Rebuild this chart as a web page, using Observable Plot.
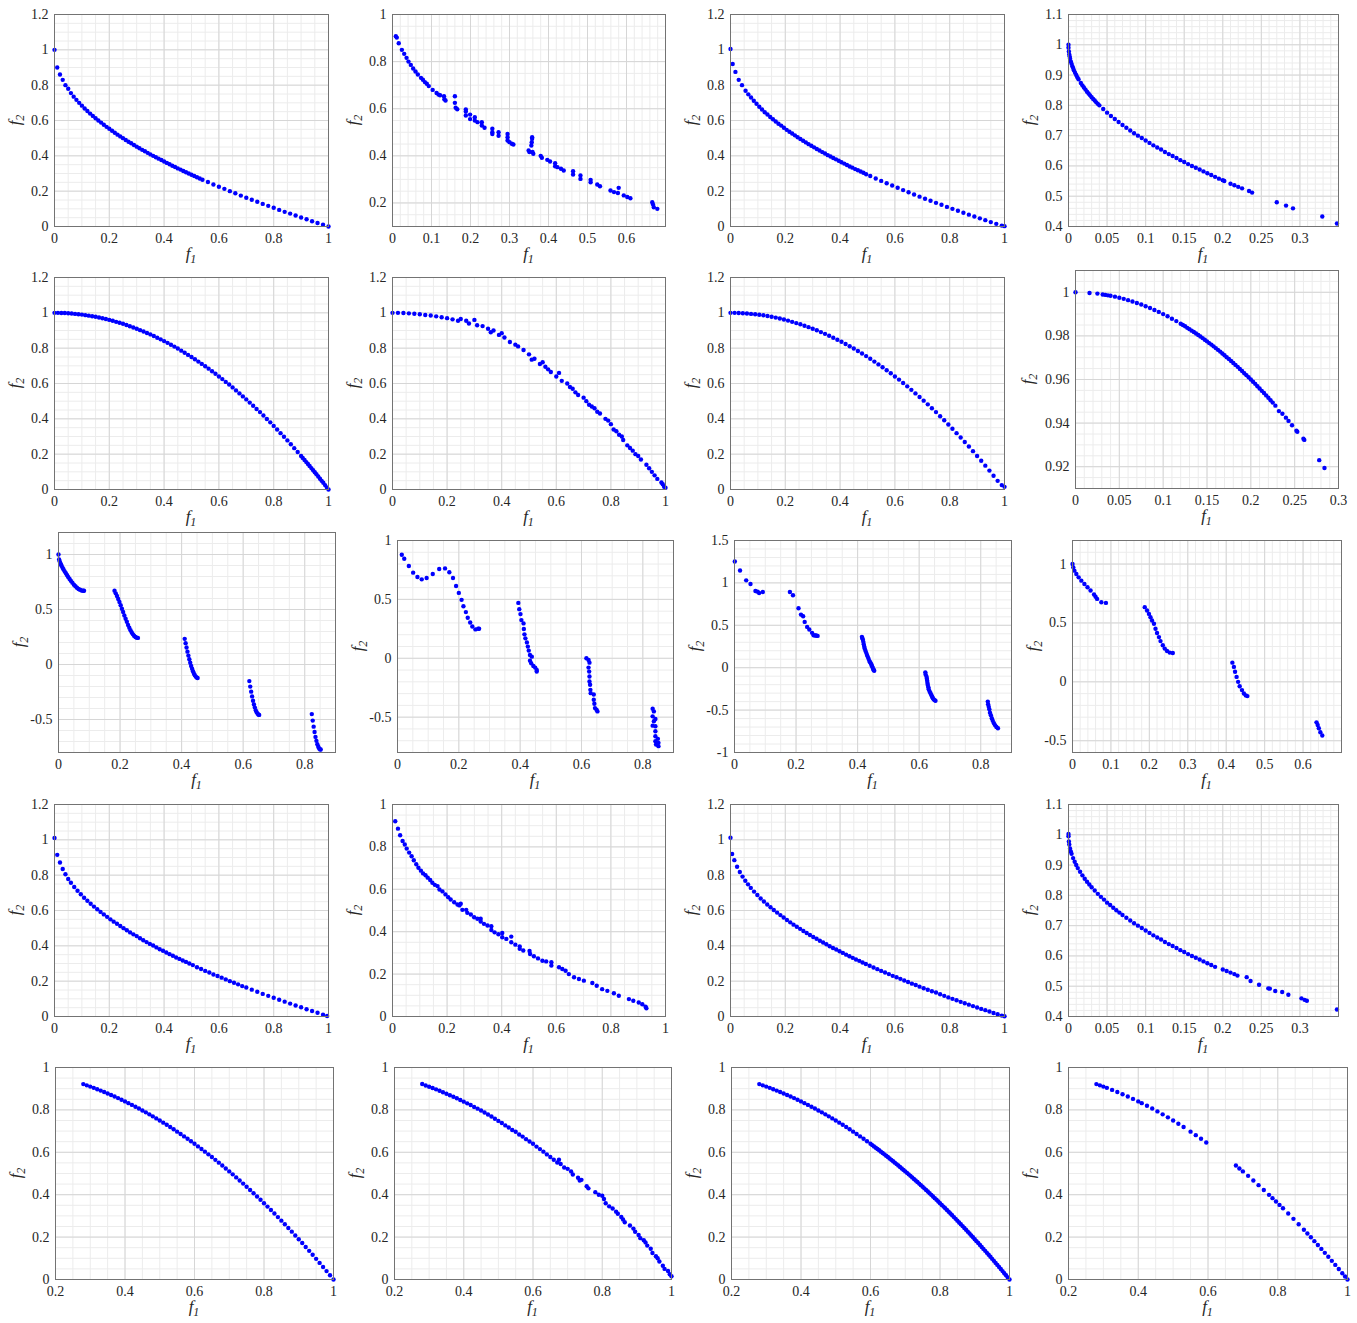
<!DOCTYPE html>
<html><head><meta charset="utf-8">
<script src="https://cdn.jsdelivr.net/npm/d3@7"></script>
<script src="https://cdn.jsdelivr.net/npm/@observablehq/plot@0.6"></script>
<style>
body{margin:0;background:#fff;}
#wrap{position:relative;width:1357px;height:1323px;overflow:hidden;background:#fff;}
#wrap svg{position:absolute;font-family:'Liberation Serif','Times New Roman',serif;}
</style></head><body><div id="wrap"></div>
<script>
// ---------- tick labels ----------
const tk0to1 = [0,0.2,0.4,0.6,0.8,1];
const tk0to12 = [0,0.2,0.4,0.6,0.8,1,1.2];
const tk0to06 = [0,0.1,0.2,0.3,0.4,0.5,0.6];
const tk02to1 = [0.2,0.4,0.6,0.8,1];
const tk0to03 = [0,0.05,0.1,0.15,0.2,0.25,0.3];
const tk04to11 = [0.4,0.5,0.6,0.7,0.8,0.9,1,1.1];
const tk092to1 = [0.92,0.94,0.96,0.98,1];
const tk0to08 = [0,0.2,0.4,0.6,0.8];
const tkm05to1 = [-0.5,0,0.5,1];
const tkm1to15 = [-1,-0.5,0,0.5,1,1.5];

// ---------- series (f1, f2) ----------
const f11 = [[0,1],[0.01,0.9],[0.02,0.86],[0.03,0.83],[0.04,0.8],[0.05,0.78],[0.06,0.755],[0.07,0.735],[0.08,0.717],[0.09,0.7],[0.1,0.684],[0.11,0.668],[0.12,0.654],[0.13,0.639],[0.14,0.626],[0.15,0.613],[0.16,0.6],[0.17,0.588],[0.18,0.576],[0.19,0.564],[0.2,0.553],[0.21,0.542],[0.22,0.531],[0.23,0.52],[0.24,0.51],[0.25,0.5],[0.26,0.49],[0.27,0.48],[0.28,0.471],[0.29,0.461],[0.3,0.452],[0.31,0.443],[0.32,0.434],[0.33,0.426],[0.34,0.417],[0.35,0.408],[0.36,0.4],[0.37,0.392],[0.38,0.384],[0.39,0.376],[0.4,0.368],[0.41,0.36],[0.42,0.352],[0.43,0.344],[0.44,0.337],[0.45,0.329],[0.46,0.322],[0.47,0.314],[0.48,0.307],[0.49,0.3],[0.5,0.293],[0.51,0.286],[0.52,0.279],[0.53,0.272],[0.54,0.265],[0.56,0.252],[0.58,0.238],[0.6,0.225],[0.62,0.213],[0.64,0.2],[0.66,0.188],[0.68,0.175],[0.7,0.163],[0.72,0.151],[0.74,0.14],[0.76,0.128],[0.78,0.117],[0.8,0.106],[0.82,0.094],[0.84,0.083],[0.86,0.073],[0.88,0.062],[0.9,0.051],[0.92,0.041],[0.94,0.03],[0.96,0.02],[0.98,0.01],[1,0]];

const f12 = [[0.0085,0.908],[0.011,0.902],[0.016,0.878],[0.024,0.85],[0.03,0.833],[0.036,0.816],[0.041,0.8],[0.047,0.786],[0.053,0.771],[0.059,0.758],[0.065,0.745],[0.073,0.731],[0.078,0.723],[0.083,0.713],[0.088,0.706],[0.093,0.696],[0.103,0.68],[0.113,0.667],[0.118,0.66],[0.122,0.657],[0.132,0.653],[0.133,0.64],[0.136,0.635],[0.16,0.653],[0.16,0.625],[0.162,0.604],[0.166,0.598],[0.188,0.597],[0.188,0.588],[0.188,0.571],[0.199,0.575],[0.199,0.556],[0.211,0.564],[0.211,0.55],[0.218,0.543],[0.229,0.543],[0.229,0.529],[0.236,0.519],[0.256,0.515],[0.256,0.5],[0.256,0.493],[0.272,0.5],[0.272,0.485],[0.295,0.493],[0.295,0.479],[0.295,0.465],[0.3,0.458],[0.306,0.451],[0.31,0.448],[0.349,0.423],[0.351,0.416],[0.358,0.479],[0.358,0.472],[0.357,0.458],[0.356,0.444],[0.359,0.416],[0.361,0.409],[0.38,0.4],[0.383,0.392],[0.397,0.383],[0.404,0.376],[0.417,0.369],[0.417,0.356],[0.423,0.352],[0.432,0.345],[0.439,0.338],[0.463,0.335],[0.463,0.321],[0.482,0.317],[0.482,0.302],[0.508,0.298],[0.508,0.288],[0.525,0.278],[0.532,0.271],[0.559,0.253],[0.568,0.246],[0.578,0.242],[0.58,0.264],[0.593,0.232],[0.602,0.225],[0.61,0.22],[0.666,0.203],[0.668,0.193],[0.67,0.182],[0.679,0.175]];

const f13 = [[0,1.005],[0.008,0.92],[0.018,0.875],[0.03,0.83],[0.042,0.8],[0.055,0.768],[0.065,0.748],[0.075,0.73],[0.085,0.712],[0.095,0.695],[0.105,0.678],[0.115,0.662],[0.125,0.647],[0.135,0.634],[0.145,0.62],[0.155,0.607],[0.165,0.594],[0.175,0.582],[0.185,0.571],[0.195,0.559],[0.205,0.547],[0.215,0.536],[0.225,0.526],[0.235,0.516],[0.245,0.505],[0.255,0.495],[0.265,0.485],[0.275,0.476],[0.285,0.466],[0.295,0.457],[0.305,0.448],[0.315,0.439],[0.325,0.43],[0.335,0.421],[0.345,0.413],[0.355,0.404],[0.365,0.396],[0.375,0.388],[0.385,0.38],[0.395,0.372],[0.405,0.364],[0.415,0.356],[0.425,0.348],[0.435,0.34],[0.445,0.333],[0.455,0.325],[0.465,0.318],[0.475,0.311],[0.485,0.304],[0.495,0.296],[0.51,0.286],[0.53,0.272],[0.55,0.258],[0.57,0.245],[0.59,0.232],[0.61,0.219],[0.63,0.206],[0.65,0.194],[0.67,0.181],[0.69,0.169],[0.71,0.157],[0.73,0.146],[0.75,0.134],[0.77,0.123],[0.79,0.111],[0.81,0.1],[0.83,0.089],[0.85,0.078],[0.87,0.067],[0.89,0.057],[0.91,0.046],[0.93,0.036],[0.95,0.025],[0.97,0.015],[0.99,0.005],[1,0.002]];

const f14 = [[0,1],[0,0.99],[0.0005,0.978],[0.001,0.968],[0.0015,0.961],[0.002,0.955],[0.003,0.945],[0.004,0.937],[0.005,0.929],[0.006,0.923],[0.007,0.916],[0.0085,0.908],[0.01,0.9],[0.0115,0.893],[0.013,0.886],[0.016,0.874],[0.018,0.866],[0.02,0.859],[0.022,0.852],[0.024,0.845],[0.026,0.839],[0.028,0.833],[0.03,0.827],[0.032,0.821],[0.034,0.816],[0.036,0.81],[0.038,0.805],[0.04,0.8],[0.045,0.788],[0.05,0.776],[0.055,0.765],[0.06,0.755],[0.065,0.745],[0.07,0.735],[0.075,0.726],[0.08,0.717],[0.085,0.708],[0.09,0.7],[0.095,0.692],[0.1,0.684],[0.105,0.676],[0.11,0.668],[0.115,0.661],[0.12,0.654],[0.125,0.646],[0.13,0.639],[0.135,0.633],[0.14,0.626],[0.145,0.619],[0.15,0.613],[0.155,0.606],[0.16,0.6],[0.165,0.594],[0.17,0.588],[0.175,0.582],[0.18,0.576],[0.185,0.57],[0.19,0.564],[0.195,0.558],[0.2,0.553],[0.202,0.55],[0.21,0.541],[0.215,0.536],[0.22,0.531],[0.225,0.526],[0.234,0.517],[0.238,0.512],[0.27,0.48],[0.282,0.469],[0.291,0.46],[0.329,0.433],[0.348,0.41]];

const f21 = [[0,1],[0.0125,1],[0.025,0.999],[0.0375,0.999],[0.05,0.998],[0.0625,0.996],[0.075,0.994],[0.0875,0.992],[0.1,0.99],[0.1125,0.987],[0.125,0.984],[0.1375,0.981],[0.15,0.978],[0.1625,0.974],[0.175,0.969],[0.1875,0.965],[0.2,0.96],[0.2125,0.955],[0.225,0.949],[0.2375,0.944],[0.25,0.938],[0.2625,0.931],[0.275,0.924],[0.2875,0.917],[0.3,0.91],[0.3125,0.902],[0.325,0.894],[0.3375,0.886],[0.35,0.878],[0.3625,0.869],[0.375,0.859],[0.3875,0.85],[0.4,0.84],[0.4125,0.83],[0.425,0.819],[0.4375,0.809],[0.45,0.798],[0.4625,0.786],[0.475,0.774],[0.4875,0.762],[0.5,0.75],[0.5125,0.737],[0.525,0.724],[0.5375,0.711],[0.55,0.698],[0.5625,0.684],[0.575,0.669],[0.5875,0.655],[0.6,0.64],[0.6125,0.625],[0.625,0.609],[0.6375,0.594],[0.65,0.578],[0.6625,0.561],[0.675,0.544],[0.6875,0.527],[0.7,0.51],[0.7125,0.492],[0.725,0.474],[0.7375,0.456],[0.75,0.438],[0.7625,0.419],[0.775,0.399],[0.7875,0.38],[0.8,0.36],[0.8125,0.34],[0.825,0.319],[0.8375,0.299],[0.85,0.278],[0.8625,0.256],[0.875,0.234],[0.8875,0.212],[0.9,0.19],[0.906,0.179],[0.9125,0.167],[0.919,0.155],[0.925,0.144],[0.931,0.133],[0.9375,0.121],[0.944,0.109],[0.95,0.098],[0.956,0.086],[0.9625,0.074],[0.969,0.061],[0.975,0.049],[0.981,0.038],[0.9875,0.025],[0.994,0.012],[1,0]];

const f22 = [[0,1],[0.02,1],[0.04,0.999],[0.06,0.997],[0.08,0.995],[0.1,0.992],[0.12,0.988],[0.14,0.985],[0.16,0.98],[0.18,0.975],[0.2,0.97],[0.22,0.963],[0.24,0.955],[0.25,0.965],[0.27,0.955],[0.28,0.94],[0.3,0.96],[0.31,0.93],[0.33,0.925],[0.35,0.91],[0.36,0.89],[0.37,0.9],[0.39,0.875],[0.4,0.885],[0.41,0.86],[0.43,0.835],[0.45,0.82],[0.46,0.81],[0.48,0.79],[0.5,0.765],[0.51,0.735],[0.52,0.74],[0.54,0.71],[0.55,0.72],[0.56,0.695],[0.57,0.68],[0.58,0.665],[0.6,0.64],[0.61,0.66],[0.62,0.615],[0.64,0.6],[0.65,0.58],[0.66,0.57],[0.67,0.55],[0.68,0.535],[0.7,0.52],[0.71,0.5],[0.72,0.48],[0.73,0.47],[0.74,0.46],[0.75,0.44],[0.76,0.43],[0.78,0.4],[0.79,0.39],[0.8,0.37],[0.81,0.34],[0.82,0.33],[0.83,0.31],[0.84,0.3],[0.845,0.28],[0.86,0.25],[0.87,0.235],[0.88,0.22],[0.89,0.2],[0.9,0.19],[0.91,0.17],[0.93,0.14],[0.94,0.12],[0.95,0.1],[0.96,0.08],[0.97,0.06],[0.985,0.04],[0.99,0.03],[0.995,0.015],[1,0.01]];

const f23 = [[0,1],[0.015,1],[0.03,0.999],[0.045,0.998],[0.06,0.996],[0.075,0.994],[0.09,0.992],[0.105,0.989],[0.12,0.986],[0.135,0.982],[0.15,0.978],[0.165,0.973],[0.18,0.968],[0.195,0.962],[0.21,0.956],[0.225,0.949],[0.24,0.942],[0.255,0.935],[0.27,0.927],[0.285,0.919],[0.3,0.91],[0.315,0.901],[0.33,0.891],[0.345,0.881],[0.36,0.87],[0.375,0.859],[0.39,0.848],[0.405,0.836],[0.42,0.824],[0.435,0.811],[0.45,0.798],[0.465,0.784],[0.48,0.77],[0.495,0.755],[0.51,0.74],[0.525,0.724],[0.54,0.708],[0.555,0.692],[0.57,0.675],[0.585,0.658],[0.6,0.64],[0.615,0.622],[0.63,0.603],[0.645,0.584],[0.66,0.564],[0.675,0.544],[0.69,0.524],[0.705,0.503],[0.72,0.482],[0.735,0.46],[0.75,0.438],[0.765,0.415],[0.78,0.392],[0.795,0.368],[0.81,0.344],[0.825,0.319],[0.84,0.294],[0.855,0.269],[0.87,0.243],[0.885,0.217],[0.9,0.19],[0.915,0.163],[0.93,0.135],[0.945,0.107],[0.96,0.078],[0.975,0.049],[0.99,0.025],[1,0.015]];

const f24 = [[0,1],[0.016,0.9997],[0.025,0.9994],[0.031,0.999],[0.034,0.9988],[0.037,0.9986],[0.04,0.9984],[0.045,0.998],[0.05,0.9975],[0.055,0.997],[0.06,0.9964],[0.065,0.9958],[0.07,0.9951],[0.075,0.9944],[0.08,0.9936],[0.085,0.9928],[0.09,0.9919],[0.095,0.991],[0.1,0.99],[0.105,0.989],[0.11,0.9879],[0.115,0.9868],[0.12,0.9856],[0.1225,0.985],[0.125,0.9844],[0.1275,0.9837],[0.13,0.9831],[0.1325,0.9824],[0.135,0.9818],[0.1375,0.9811],[0.14,0.9804],[0.1425,0.9797],[0.145,0.979],[0.1475,0.9782],[0.15,0.9775],[0.1525,0.9767],[0.155,0.976],[0.1575,0.9752],[0.16,0.9744],[0.1625,0.9736],[0.165,0.9728],[0.1675,0.9719],[0.17,0.9711],[0.1725,0.9702],[0.175,0.9694],[0.1775,0.9685],[0.18,0.9676],[0.1825,0.9667],[0.185,0.9658],[0.1875,0.9648],[0.19,0.9639],[0.1925,0.9629],[0.195,0.962],[0.1975,0.961],[0.2,0.96],[0.2025,0.959],[0.205,0.958],[0.2075,0.9569],[0.21,0.9559],[0.2125,0.9548],[0.215,0.9538],[0.2175,0.9527],[0.22,0.9516],[0.2225,0.9505],[0.225,0.9494],[0.228,0.948],[0.232,0.9455],[0.236,0.9443],[0.24,0.9425],[0.243,0.941],[0.247,0.939],[0.252,0.9365],[0.253,0.936],[0.26,0.9328],[0.261,0.9323],[0.278,0.923],[0.284,0.9194]];

const f31 = [[0,1],[0.002,0.955],[0.004,0.936],[0.006,0.921],[0.008,0.909],[0.01,0.897],[0.013,0.881],[0.016,0.866],[0.02,0.847],[0.024,0.829],[0.028,0.811],[0.032,0.794],[0.036,0.777],[0.04,0.762],[0.045,0.744],[0.05,0.726],[0.055,0.711],[0.06,0.698],[0.065,0.687],[0.07,0.679],[0.075,0.673],[0.08,0.67],[0.083,0.67],
 [0.182,0.671],[0.186,0.647],[0.19,0.623],[0.194,0.596],[0.198,0.568],[0.202,0.538],[0.206,0.507],[0.21,0.477],[0.214,0.446],[0.218,0.416],[0.222,0.388],[0.226,0.36],[0.23,0.334],[0.234,0.311],[0.238,0.291],[0.242,0.274],[0.246,0.26],[0.25,0.25],[0.254,0.244],[0.258,0.242],
 [0.41,0.233],[0.413,0.194],[0.416,0.155],[0.419,0.117],[0.422,0.081],[0.425,0.048],[0.428,0.016],[0.431,-0.014],[0.434,-0.039],[0.437,-0.062],[0.44,-0.081],[0.443,-0.098],[0.446,-0.11],[0.449,-0.119],[0.452,-0.123],
 [0.62,-0.151],[0.623,-0.201],[0.626,-0.247],[0.629,-0.29],[0.632,-0.329],[0.635,-0.363],[0.638,-0.392],[0.641,-0.417],[0.644,-0.435],[0.647,-0.448],[0.65,-0.456],[0.652,-0.458],
 [0.823,-0.451],[0.826,-0.51],[0.829,-0.565],[0.832,-0.614],[0.835,-0.658],[0.838,-0.694],[0.841,-0.724],[0.844,-0.748],[0.847,-0.763],[0.85,-0.772],[0.852,-0.773]];

const f32 = [[0.014,0.879],[0.022,0.845],[0.037,0.783],[0.051,0.727],[0.065,0.69],[0.079,0.67],[0.095,0.682],[0.115,0.715],[0.136,0.758],[0.155,0.763],[0.169,0.73],[0.181,0.682],[0.191,0.614],[0.2,0.555],[0.209,0.496],[0.215,0.442],[0.223,0.392],[0.229,0.344],[0.237,0.304],[0.244,0.27],[0.254,0.245],[0.263,0.251],[0.266,0.251],
 [0.394,0.47],[0.397,0.417],[0.401,0.375],[0.404,0.324],[0.411,0.296],[0.412,0.248],[0.414,0.203],[0.417,0.169],[0.422,0.135],[0.425,0.099],[0.428,0.065],[0.432,0.028],[0.438,0.014],[0.432,-0.02],[0.436,-0.042],[0.443,-0.065],[0.449,-0.079],[0.454,-0.099],[0.454,-0.113],
 [0.616,0],[0.623,-0.014],[0.626,-0.037],[0.623,-0.079],[0.625,-0.113],[0.626,-0.155],[0.626,-0.197],[0.628,-0.225],[0.629,-0.268],[0.63,-0.296],[0.64,-0.307],[0.64,-0.352],[0.642,-0.386],[0.644,-0.423],[0.649,-0.437],[0.652,-0.451],
 [0.832,-0.428],[0.836,-0.451],[0.832,-0.493],[0.836,-0.535],[0.832,-0.572],[0.841,-0.515],[0.841,-0.577],[0.841,-0.62],[0.841,-0.662],[0.841,-0.704],[0.843,-0.732],[0.849,-0.684],[0.851,-0.718],[0.851,-0.746]];

const f33 = [[0.001,1.253],[0.018,1.147],[0.038,1.03],[0.052,0.987],[0.068,0.904],[0.075,0.897],[0.08,0.881],[0.092,0.893],
 [0.18,0.893],[0.19,0.854],[0.208,0.701],[0.216,0.626],[0.223,0.607],[0.228,0.54],[0.236,0.481],[0.243,0.45],[0.252,0.411],[0.257,0.383],[0.262,0.38],[0.265,0.379],[0.27,0.375],
 [0.414,0.364],[0.415,0.35],[0.417,0.332],[0.4185,0.305],[0.42,0.277],[0.4215,0.25],[0.423,0.226],[0.4255,0.2],[0.428,0.175],[0.4305,0.15],[0.433,0.128],[0.4355,0.105],[0.438,0.081],[0.4405,0.065],[0.443,0.05],[0.445,0.034],[0.447,0.018],[0.449,0],[0.451,-0.02],[0.4525,-0.028],[0.454,-0.036],
 [0.62,-0.055],[0.621,-0.08],[0.624,-0.106],[0.625,-0.13],[0.626,-0.153],[0.627,-0.18],[0.628,-0.204],[0.63,-0.23],[0.631,-0.255],[0.634,-0.28],[0.637,-0.302],[0.64,-0.325],[0.642,-0.342],[0.645,-0.36],[0.647,-0.373],[0.65,-0.382],[0.653,-0.389],
 [0.823,-0.4],[0.824,-0.43],[0.826,-0.46],[0.828,-0.49],[0.83,-0.53],[0.833,-0.56],[0.836,-0.596],[0.839,-0.625],[0.843,-0.655],[0.847,-0.68],[0.851,-0.7],[0.856,-0.714]];

const f34 = [[0,1],[0.002,0.972],[0.005,0.944],[0.01,0.915],[0.016,0.887],[0.023,0.859],[0.031,0.831],[0.039,0.803],[0.047,0.775],[0.056,0.741],[0.06,0.722],[0.064,0.704],[0.075,0.676],[0.087,0.67],
 [0.188,0.634],[0.194,0.606],[0.199,0.577],[0.203,0.549],[0.207,0.521],[0.212,0.493],[0.216,0.451],[0.22,0.414],[0.225,0.38],[0.229,0.346],[0.235,0.31],[0.24,0.282],[0.246,0.262],[0.253,0.248],[0.261,0.245],
 [0.416,0.163],[0.42,0.127],[0.423,0.085],[0.427,0.042],[0.431,0],[0.435,-0.037],[0.441,-0.07],[0.446,-0.099],[0.451,-0.115],[0.455,-0.121],
 [0.635,-0.344],[0.638,-0.366],[0.641,-0.394],[0.645,-0.428],[0.65,-0.456]];

const f41 = [[0,1.01],[0.01,0.915],[0.02,0.872],[0.03,0.835],[0.04,0.805],[0.05,0.778],[0.06,0.757],[0.072,0.733],[0.084,0.712],[0.096,0.692],[0.108,0.672],[0.12,0.655],[0.132,0.638],[0.144,0.622],[0.156,0.607],[0.168,0.592],[0.18,0.578],[0.192,0.564],[0.204,0.55],[0.216,0.537],[0.228,0.525],[0.24,0.512],[0.252,0.5],[0.264,0.488],[0.276,0.476],[0.288,0.465],[0.3,0.455],[0.312,0.443],[0.324,0.432],[0.336,0.421],[0.348,0.411],[0.36,0.402],[0.372,0.391],[0.384,0.381],[0.396,0.372],[0.408,0.362],[0.42,0.353],[0.432,0.344],[0.444,0.334],[0.456,0.326],[0.468,0.317],[0.48,0.309],[0.492,0.3],[0.505,0.291],[0.52,0.279],[0.535,0.269],[0.55,0.258],[0.565,0.249],[0.58,0.238],[0.595,0.229],[0.61,0.22],[0.625,0.21],[0.64,0.2],[0.655,0.191],[0.67,0.182],[0.685,0.172],[0.7,0.164],[0.72,0.152],[0.74,0.14],[0.76,0.128],[0.78,0.117],[0.8,0.106],[0.82,0.095],[0.84,0.084],[0.86,0.073],[0.88,0.062],[0.9,0.052],[0.92,0.041],[0.94,0.031],[0.96,0.021],[0.98,0.01],[0.995,0.003]];

const f42 = [[0.01,0.921],[0.02,0.886],[0.028,0.855],[0.037,0.828],[0.045,0.811],[0.052,0.792],[0.061,0.773],[0.07,0.756],[0.078,0.737],[0.087,0.718],[0.095,0.702],[0.104,0.688],[0.112,0.675],[0.121,0.666],[0.129,0.655],[0.138,0.644],[0.146,0.631],[0.155,0.621],[0.165,0.615],[0.172,0.599],[0.183,0.59],[0.194,0.576],[0.204,0.563],[0.213,0.552],[0.226,0.539],[0.238,0.528],[0.245,0.524],[0.25,0.532],[0.256,0.503],[0.27,0.503],[0.274,0.489],[0.287,0.481],[0.299,0.468],[0.311,0.461],[0.323,0.461],[0.323,0.448],[0.335,0.437],[0.348,0.429],[0.362,0.426],[0.362,0.408],[0.374,0.397],[0.388,0.388],[0.402,0.394],[0.402,0.374],[0.417,0.366],[0.435,0.377],[0.435,0.35],[0.45,0.339],[0.466,0.331],[0.466,0.319],[0.479,0.311],[0.502,0.309],[0.504,0.295],[0.518,0.284],[0.533,0.274],[0.549,0.263],[0.563,0.26],[0.582,0.256],[0.582,0.24],[0.61,0.232],[0.622,0.224],[0.634,0.216],[0.646,0.2],[0.665,0.185],[0.683,0.177],[0.701,0.169],[0.732,0.158],[0.748,0.145],[0.768,0.129],[0.787,0.121],[0.811,0.11],[0.829,0.098],[0.866,0.082],[0.882,0.074],[0.902,0.066],[0.915,0.058],[0.927,0.046],[0.93,0.039]];

const f43 = [[0,1.012],[0.006,0.92],[0.014,0.885],[0.024,0.848],[0.034,0.818],[0.044,0.792],[0.054,0.768],[0.064,0.748],[0.074,0.728],[0.086,0.707],[0.098,0.688],[0.11,0.668],[0.122,0.651],[0.134,0.634],[0.146,0.618],[0.158,0.603],[0.17,0.588],[0.182,0.574],[0.194,0.56],[0.206,0.546],[0.218,0.533],[0.23,0.52],[0.242,0.508],[0.254,0.496],[0.266,0.484],[0.278,0.473],[0.29,0.461],[0.302,0.45],[0.314,0.44],[0.326,0.429],[0.338,0.419],[0.35,0.409],[0.362,0.398],[0.374,0.388],[0.386,0.379],[0.398,0.369],[0.41,0.36],[0.422,0.35],[0.434,0.341],[0.446,0.332],[0.458,0.323],[0.47,0.315],[0.482,0.306],[0.494,0.297],[0.508,0.287],[0.522,0.277],[0.536,0.268],[0.55,0.258],[0.564,0.249],[0.578,0.24],[0.592,0.23],[0.606,0.222],[0.62,0.213],[0.634,0.204],[0.648,0.195],[0.662,0.186],[0.676,0.178],[0.69,0.169],[0.705,0.16],[0.72,0.151],[0.735,0.143],[0.75,0.136],[0.765,0.126],[0.78,0.117],[0.795,0.108],[0.81,0.1],[0.825,0.092],[0.84,0.083],[0.855,0.075],[0.87,0.067],[0.885,0.059],[0.9,0.051],[0.915,0.043],[0.93,0.036],[0.945,0.028],[0.96,0.02],[0.975,0.013],[0.99,0.005],[1,0.001]];

const f44 = [[0,1.003],[0,0.995],[0.0005,0.978],[0.001,0.968],[0.002,0.955],[0.003,0.945],[0.004,0.937],[0.006,0.923],[0.008,0.911],[0.01,0.9],[0.012,0.89],[0.015,0.878],[0.018,0.866],[0.021,0.855],[0.024,0.845],[0.027,0.836],[0.03,0.827],[0.034,0.816],[0.038,0.805],[0.042,0.795],[0.046,0.786],[0.05,0.776],[0.054,0.768],[0.058,0.759],[0.062,0.751],[0.066,0.743],[0.07,0.735],[0.075,0.726],[0.08,0.717],[0.085,0.708],[0.09,0.7],[0.095,0.692],[0.1,0.684],[0.105,0.676],[0.11,0.668],[0.115,0.661],[0.12,0.654],[0.125,0.646],[0.13,0.639],[0.135,0.633],[0.14,0.626],[0.145,0.619],[0.15,0.613],[0.155,0.606],[0.16,0.6],[0.165,0.594],[0.17,0.588],[0.175,0.582],[0.18,0.576],[0.185,0.57],[0.19,0.564],[0.2,0.555],[0.205,0.55],[0.21,0.545],[0.215,0.54],[0.219,0.535],[0.231,0.53],[0.236,0.517],[0.247,0.505],[0.259,0.493],[0.261,0.492],[0.268,0.484],[0.277,0.481],[0.285,0.472],[0.302,0.46],[0.306,0.455],[0.309,0.452],[0.348,0.423]];

const f51 = [[0.28,0.9216],[0.29,0.9159],[0.3,0.91],[0.31,0.9039],[0.32,0.8976],[0.33,0.8911],[0.34,0.8844],[0.35,0.8775],[0.36,0.8704],[0.37,0.8631],[0.38,0.8556],[0.39,0.8479],[0.4,0.84],[0.41,0.8319],[0.42,0.8236],[0.43,0.8151],[0.44,0.8064],[0.45,0.7975],[0.46,0.7884],[0.47,0.7791],[0.48,0.7696],[0.49,0.7599],[0.5,0.75],[0.51,0.7399],[0.52,0.7296],[0.53,0.7191],[0.54,0.7084],[0.55,0.6975],[0.56,0.6864],[0.57,0.6751],[0.58,0.6636],[0.59,0.6519],[0.6,0.64],[0.61,0.6279],[0.62,0.6156],[0.63,0.6031],[0.64,0.5904],[0.65,0.5775],[0.66,0.5644],[0.67,0.5511],[0.68,0.5376],[0.69,0.5239],[0.7,0.51],[0.71,0.4959],[0.72,0.4816],[0.73,0.4671],[0.74,0.4524],[0.75,0.4375],[0.76,0.4224],[0.77,0.4071],[0.78,0.3916],[0.79,0.3759],[0.8,0.36],[0.81,0.3439],[0.82,0.3276],[0.83,0.3111],[0.84,0.2944],[0.85,0.2775],[0.86,0.2604],[0.87,0.2431],[0.88,0.2256],[0.89,0.2079],[0.9,0.19],[0.91,0.1719],[0.92,0.1536],[0.93,0.1351],[0.94,0.1164],[0.95,0.0975],[0.96,0.0784],[0.97,0.0591],[0.98,0.0396],[0.99,0.0199],[1,0]];

const f52 = [[0.28,0.922],[0.29,0.915],[0.3,0.909],[0.31,0.903],[0.32,0.897],[0.33,0.89],[0.34,0.883],[0.35,0.876],[0.36,0.869],[0.37,0.862],[0.38,0.855],[0.39,0.847],[0.4,0.839],[0.41,0.831],[0.42,0.823],[0.43,0.814],[0.44,0.806],[0.45,0.797],[0.46,0.788],[0.47,0.778],[0.48,0.769],[0.49,0.758],[0.5,0.748],[0.51,0.738],[0.52,0.727],[0.53,0.717],[0.54,0.705],[0.55,0.697],[0.56,0.684],[0.57,0.674],[0.58,0.662],[0.59,0.651],[0.6,0.64],[0.61,0.627],[0.62,0.615],[0.63,0.603],[0.64,0.59],[0.65,0.578],[0.66,0.565],[0.67,0.552],[0.675,0.565],[0.68,0.545],[0.69,0.528],[0.7,0.522],[0.71,0.51],[0.715,0.495],[0.73,0.48],[0.735,0.467],[0.74,0.47],[0.755,0.44],[0.76,0.43],[0.78,0.412],[0.79,0.4],[0.8,0.395],[0.805,0.38],[0.81,0.36],[0.82,0.345],[0.83,0.335],[0.84,0.32],[0.845,0.31],[0.855,0.295],[0.86,0.283],[0.865,0.27],[0.88,0.255],[0.89,0.24],[0.895,0.225],[0.905,0.21],[0.91,0.195],[0.92,0.185],[0.925,0.175],[0.93,0.16],[0.94,0.145],[0.945,0.125],[0.955,0.11],[0.96,0.1],[0.965,0.085],[0.975,0.065],[0.98,0.05],[0.99,0.04],[0.995,0.025],[1,0.015]];

const f53 = [[0.28,0.9216],[0.29,0.9159],[0.3,0.91],[0.31,0.9039],[0.32,0.8976],[0.33,0.8911],[0.34,0.8844],[0.35,0.8775],[0.36,0.8704],[0.37,0.8631],[0.38,0.8556],[0.39,0.8479],[0.4,0.84],[0.41,0.8319],[0.42,0.8236],[0.43,0.8151],[0.44,0.8064],[0.45,0.7975],[0.46,0.7884],[0.47,0.7791],[0.48,0.7696],[0.49,0.7599],[0.5,0.75],[0.51,0.7399],[0.52,0.7296],[0.53,0.7191],[0.54,0.7084],[0.55,0.6975],[0.56,0.6864],[0.57,0.6751],[0.58,0.6636],[0.59,0.6519],[0.6,0.64],[0.605,0.634],[0.61,0.6279],[0.615,0.6218],[0.62,0.6156],[0.625,0.6094],[0.63,0.6031],[0.635,0.5968],[0.64,0.5904],[0.645,0.584],[0.65,0.5775],[0.655,0.571],[0.66,0.5644],[0.665,0.5578],[0.67,0.5511],[0.675,0.5444],[0.68,0.5376],[0.685,0.5308],[0.69,0.5239],[0.695,0.517],[0.7,0.51],[0.705,0.503],[0.71,0.4959],[0.715,0.4888],[0.72,0.4816],[0.725,0.4744],[0.73,0.4671],[0.735,0.4598],[0.74,0.4524],[0.745,0.445],[0.75,0.4375],[0.755,0.43],[0.76,0.4224],[0.765,0.4148],[0.77,0.4071],[0.775,0.3994],[0.78,0.3916],[0.785,0.3838],[0.79,0.3759],[0.795,0.368],[0.8,0.36],[0.805,0.352],[0.81,0.3439],[0.815,0.3358],[0.82,0.3276],[0.825,0.3194],[0.83,0.3111],[0.835,0.3028],[0.84,0.2944],[0.845,0.286],[0.85,0.2775],[0.855,0.269],[0.86,0.2604],[0.865,0.2518],[0.87,0.2431],[0.875,0.2344],[0.88,0.2256],[0.885,0.2168],[0.89,0.2079],[0.895,0.199],[0.9,0.19],[0.905,0.181],[0.91,0.1719],[0.915,0.1628],[0.92,0.1536],[0.925,0.1444],[0.93,0.1351],[0.935,0.1258],[0.94,0.1164],[0.945,0.107],[0.95,0.0975],[0.955,0.088],[0.96,0.0784],[0.965,0.0688],[0.97,0.0591],[0.975,0.0494],[0.98,0.0396],[0.985,0.0298],[0.99,0.0199],[0.995,0.01],[1,0]];

const f54 = [[0.28,0.9216],[0.29,0.9159],[0.3,0.91],[0.31,0.9039],[0.325,0.8944],[0.34,0.8844],[0.355,0.874],[0.37,0.8631],[0.385,0.8518],[0.4,0.84],[0.41,0.8319],[0.425,0.8194],[0.44,0.8064],[0.455,0.793],[0.47,0.7791],[0.485,0.7648],[0.5,0.75],[0.515,0.7348],[0.53,0.7191],[0.55,0.6975],[0.565,0.6808],[0.58,0.6636],[0.595,0.646],
 [0.68,0.5376],[0.69,0.5239],[0.7,0.51],[0.715,0.4888],[0.73,0.4671],[0.745,0.445],[0.76,0.4224],[0.775,0.3994],[0.785,0.3838],[0.795,0.368],[0.805,0.352],[0.815,0.3358],[0.83,0.3111],[0.845,0.286],[0.86,0.2604],[0.875,0.2344],[0.885,0.2168],[0.895,0.199],[0.905,0.181],[0.915,0.1628],[0.925,0.1444],[0.935,0.1258],[0.945,0.107],[0.955,0.088],[0.965,0.0688],[0.975,0.0494],[0.985,0.0298],[0.993,0.014],[1,0]];

// ---------- layout (frame boxes in page pixels: left, top, right, bottom) ----------
const A = {x:[0,1], y:[0,1.2], xt:tk0to1, yt:tk0to12, xm:0.05, ym:0.05};
const Z = {x:[0,0.35], y:[0.4,1.1], xt:tk0to03, yt:tk04to11, xm:0.01, ym:0.02};
const S = {x:[0.2,1], y:[0,1], xt:tk02to1, yt:tk0to1, xm:0.05, ym:0.05};
const panels = [
  {data:f11, box:[54,14,328,226], ...A},
  {data:f12, box:[392,14,665,226], x:[0,0.7], y:[0.1,1], xt:tk0to06, yt:tk02to1, xm:0.02, ym:0.05},
  {data:f13, box:[730,14,1004,226], ...A},
  {data:f14, box:[1068,14,1338,226], ...Z},
  {data:f21, box:[54,277,328,489], ...A},
  {data:f22, box:[392,277,665,489], ...A},
  {data:f23, box:[730,277,1004,489], ...A},
  {data:f24, box:[1075,270,1338,488], x:[0,0.3], y:[0.91,1.01], xt:tk0to03, yt:tk092to1, xm:0.01, ym:0.005, yoff:42},
  {data:f31, box:[58,532,335,752], x:[0,0.9], y:[-0.8,1.2], xt:tk0to08, yt:tkm05to1, xm:0.05, ym:0.1},
  {data:f32, box:[397,540,673,752], x:[0,0.9], y:[-0.8,1], xt:tk0to08, yt:tkm05to1, xm:0.05, ym:0.1},
  {data:f33, box:[734,540,1011,752], x:[0,0.9], y:[-1,1.5], xt:tk0to08, yt:tkm1to15, xm:0.05, ym:0.1},
  {data:f34, box:[1072,540,1341,752], x:[0,0.7], y:[-0.6,1.2], xt:tk0to06, yt:tkm05to1, xm:0.02, ym:0.1},
  {data:f41, box:[54,804,328,1016], ...A},
  {data:f42, box:[392,804,665,1016], x:[0,1], y:[0,1], xt:tk0to1, yt:tk0to1, xm:0.05, ym:0.05},
  {data:f43, box:[730,804,1004,1016], ...A},
  {data:f44, box:[1068,804,1338,1016], ...Z},
  {data:f51, box:[55,1067,333,1279], ...S},
  {data:f52, box:[394,1067,671,1279], ...S},
  {data:f53, box:[731,1067,1009,1279], ...S},
  {data:f54, box:[1068,1067,1347,1279], ...S}
];

const SERIF = "Liberation Serif";
const fmt = d => String(+d.toFixed(4));
const ML = 50, MR = 8, MT = 6, MB = 44;
const wrap = document.getElementById("wrap");

for (const p of panels) {
  const [L, T, R, B] = p.box;
  const fw = R - L, fh = B - T;
  const minorX = d3.range(p.x[0], p.x[1] + 1e-9, p.xm);
  const minorY = d3.range(p.y[0], p.y[1] + 1e-9, p.ym);
  const svg = Plot.plot({
    width: fw + ML + MR, height: fh + MT + MB,
    marginLeft: ML, marginRight: MR, marginTop: MT, marginBottom: MB,
    x: {domain: p.x}, y: {domain: p.y},
    style: {fontFamily: SERIF, fontSize: "14px", color: "#262626", background: "transparent", overflow: "visible"},
    marks: [
      Plot.ruleX(minorX, {stroke: "#ececec", strokeWidth: 1}),
      Plot.ruleY(minorY, {stroke: "#ececec", strokeWidth: 1}),
      Plot.ruleX(p.xt, {stroke: "#d6d6d6", strokeWidth: 1}),
      Plot.ruleY(p.yt, {stroke: "#d6d6d6", strokeWidth: 1}),
      Plot.dot(p.data, {x: d => d[0], y: d => d[1], r: 2.2, fill: "#0000ff"}),
      Plot.frame({stroke: "#737373"}),
      Plot.axisX(p.xt, {tickSize: 0, tickPadding: 7, tickFormat: fmt, label: null, fontSize: 14, fontFamily: SERIF, fill: "#262626"}),
      Plot.axisY(p.yt, {tickSize: 0, tickPadding: 6, tickFormat: fmt, label: null, fontSize: 14, fontFamily: SERIF, fill: "#262626"})
    ]
  });
  svg.style.left = (L - ML) + "px";
  svg.style.top = (T - MT) + "px";
  const s = d3.select(svg);
  const xl = s.append("text")
    .attr("x", ML + fw / 2).attr("y", MT + fh + 33)
    .attr("text-anchor", "middle")
    .attr("font-family", SERIF).attr("font-size", 17).attr("fill", "#262626");
  xl.append("tspan").attr("font-style", "italic").text("f");
  xl.append("tspan").attr("dy", 4).attr("font-style", "italic").attr("font-size", 12).text("1");
  const yoff = p.yoff || 34;
  const yl = s.append("text")
    .attr("transform", `translate(${ML - yoff},${MT + fh / 2}) rotate(-90)`)
    .attr("text-anchor", "middle")
    .attr("font-family", SERIF).attr("font-size", 17).attr("fill", "#262626");
  yl.append("tspan").attr("font-style", "italic").text("f");
  yl.append("tspan").attr("dy", 4).attr("font-style", "italic").attr("font-size", 12).text("2");
  wrap.appendChild(svg);
}
</script>
</body></html>
